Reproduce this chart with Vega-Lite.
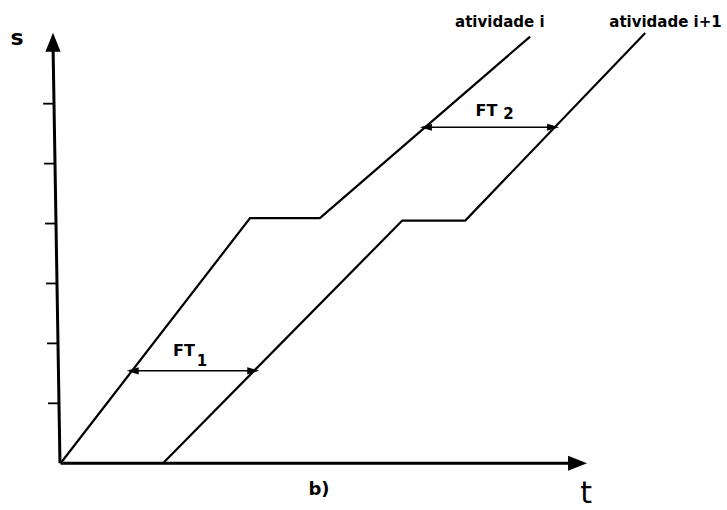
{
  "$schema": "https://vega.github.io/schema/vega-lite/v6.json",
  "width": 727,
  "height": 510,
  "autosize": {"type": "fit", "contains": "padding"},
  "padding": 0,
  "background": "white",
  "config": {"view": {"stroke": null}},
  "datasets": {
    "lines": [
      {"activity": "atividade i", "order": 1, "t": 0, "s": 0},
      {"activity": "atividade i", "order": 2, "t": 3.127, "s": 4.09},
      {"activity": "atividade i", "order": 3, "t": 4.28, "s": 4.09},
      {"activity": "atividade i", "order": 4, "t": 7.75, "s": 7.12},
      {"activity": "atividade i+1", "order": 1, "t": 1.69, "s": 0},
      {"activity": "atividade i+1", "order": 2, "t": 5.64, "s": 4.05},
      {"activity": "atividade i+1", "order": 3, "t": 6.68, "s": 4.05},
      {"activity": "atividade i+1", "order": 4, "t": 9.65, "s": 7.18}
    ],
    "axes": [
      {"axis": "s", "t": -0.01, "s": 0, "t2": -0.125, "s2": 7.0},
      {"axis": "t", "t": 0, "s": 0, "t2": 8.45, "s2": 0}
    ],
    "axisHeads": [
      {"axis": "s", "t": -0.125, "s": 7.026},
      {"axis": "t", "t": 8.533, "s": 0}
    ],
    "ticks": [
      {"s": 1, "t": -0.026, "t2": -0.208},
      {"s": 2, "t": -0.042, "t2": -0.224},
      {"s": 3, "t": -0.058, "t2": -0.24},
      {"s": 4, "t": -0.074, "t2": -0.256},
      {"s": 5, "t": -0.09, "t2": -0.272},
      {"s": 6, "t": -0.106, "t2": -0.288}
    ],
    "float": [
      {"name": "FT1", "t1": 1.19, "t2": 3.18, "s": 1.543},
      {"name": "FT2", "t1": 6.03, "t2": 8.13, "s": 5.607}
    ],
    "activityLabels": [
      {"text": "atividade i", "t": 7.25, "s": 7.28},
      {"text": "atividade i+1", "t": 9.985, "s": 7.28}
    ],
    "ftLabels": [
      {"text": "FT", "t": 2.037, "s": 1.792},
      {"text": "FT", "t": 7.03, "s": 5.79}
    ],
    "ftSubs": [
      {"text": "1", "t": 2.334, "s": 1.626},
      {"text": "2", "t": 7.394, "s": 5.74}
    ],
    "sTitle": [
      {"text": "s", "t": -0.72, "s": 6.98}
    ],
    "panelTitle": [
      {"text": "b)", "t": 4.265, "s": -0.53}
    ],
    "timeTitle": [
      {"text": "t", "t": 8.673, "s": -0.664}
    ]
  },
  "layer": [
    {
      "data": {"name": "axes"},
      "mark": {"type": "rule", "stroke": "black", "strokeWidth": 3},
      "encoding": {
        "x": {"field": "t", "type": "quantitative", "scale": {"domain": [-1, 11], "nice": false, "zero": false}, "axis": null},
        "y": {"field": "s", "type": "quantitative", "scale": {"domain": [-0.73, 7.73], "nice": false, "zero": false}, "axis": null},
        "x2": {"field": "t2"},
        "y2": {"field": "s2"}
      }
    },
    {
      "data": {"name": "axisHeads"},
      "mark": {"type": "point", "filled": true, "fill": "black", "opacity": 1, "size": 361},
      "encoding": {
        "x": {"field": "t", "type": "quantitative", "scale": {"domain": [-1, 11], "nice": false, "zero": false}, "axis": null},
        "y": {"field": "s", "type": "quantitative", "scale": {"domain": [-0.73, 7.73], "nice": false, "zero": false}, "axis": null},
        "shape": {"field": "axis", "type": "nominal", "scale": {"domain": ["s", "t"], "range": ["M0,-1L0.8,1L-0.8,1Z", "M1,0L-1,-0.8L-1,0.8Z"]}, "legend": null}
      }
    },
    {
      "data": {"name": "ticks"},
      "mark": {"type": "rule", "stroke": "black", "strokeWidth": 1.8},
      "encoding": {
        "x": {"field": "t", "type": "quantitative", "scale": {"domain": [-1, 11], "nice": false, "zero": false}, "axis": null},
        "y": {"field": "s", "type": "quantitative", "scale": {"domain": [-0.73, 7.73], "nice": false, "zero": false}, "axis": null},
        "x2": {"field": "t2"}
      }
    },
    {
      "data": {"name": "lines"},
      "mark": {"type": "line", "stroke": "black", "strokeWidth": 2.2},
      "encoding": {
        "x": {"field": "t", "type": "quantitative", "scale": {"domain": [-1, 11], "nice": false, "zero": false}, "axis": null},
        "y": {"field": "s", "type": "quantitative", "scale": {"domain": [-0.73, 7.73], "nice": false, "zero": false}, "axis": null},
        "detail": {"field": "activity", "type": "nominal"},
        "order": {"field": "order", "type": "quantitative"}
      }
    },
    {
      "data": {"name": "float"},
      "mark": {"type": "rule", "stroke": "black", "strokeWidth": 1.6},
      "encoding": {
        "x": {"field": "t1", "type": "quantitative", "scale": {"domain": [-1, 11], "nice": false, "zero": false}, "axis": null},
        "x2": {"field": "t2"},
        "y": {"field": "s", "type": "quantitative", "scale": {"domain": [-0.73, 7.73], "nice": false, "zero": false}, "axis": null}
      }
    },
    {
      "data": {"name": "float"},
      "mark": {"type": "point", "filled": true, "fill": "black", "opacity": 1, "size": 144, "shape": "M-1,0L1,-0.6L1,0.6Z", "dx": 6},
      "encoding": {
        "x": {"field": "t1", "type": "quantitative", "scale": {"domain": [-1, 11], "nice": false, "zero": false}, "axis": null},
        "y": {"field": "s", "type": "quantitative", "scale": {"domain": [-0.73, 7.73], "nice": false, "zero": false}, "axis": null}
      }
    },
    {
      "data": {"name": "float"},
      "mark": {"type": "point", "filled": true, "fill": "black", "opacity": 1, "size": 144, "shape": "M1,0L-1,-0.6L-1,0.6Z", "dx": -6},
      "encoding": {
        "x": {"field": "t2", "type": "quantitative", "scale": {"domain": [-1, 11], "nice": false, "zero": false}, "axis": null},
        "y": {"field": "s", "type": "quantitative", "scale": {"domain": [-0.73, 7.73], "nice": false, "zero": false}, "axis": null}
      }
    },
    {
      "data": {"name": "activityLabels"},
      "mark": {"type": "text", "font": "DejaVu Sans", "fontWeight": "bold", "fontSize": 15, "align": "center", "baseline": "alphabetic", "fill": "black"},
      "encoding": {
        "x": {"field": "t", "type": "quantitative", "scale": {"domain": [-1, 11], "nice": false, "zero": false}, "axis": null},
        "y": {"field": "s", "type": "quantitative", "scale": {"domain": [-0.73, 7.73], "nice": false, "zero": false}, "axis": null},
        "text": {"field": "text"}
      }
    },
    {
      "data": {"name": "ftLabels"},
      "mark": {"type": "text", "font": "DejaVu Sans", "fontWeight": "bold", "fontSize": 16, "align": "center", "baseline": "alphabetic", "fill": "black"},
      "encoding": {
        "x": {"field": "t", "type": "quantitative", "scale": {"domain": [-1, 11], "nice": false, "zero": false}, "axis": null},
        "y": {"field": "s", "type": "quantitative", "scale": {"domain": [-0.73, 7.73], "nice": false, "zero": false}, "axis": null},
        "text": {"field": "text"}
      }
    },
    {
      "data": {"name": "ftSubs"},
      "mark": {"type": "text", "font": "DejaVu Sans", "fontWeight": "bold", "fontSize": 15, "align": "center", "baseline": "alphabetic", "fill": "black"},
      "encoding": {
        "x": {"field": "t", "type": "quantitative", "scale": {"domain": [-1, 11], "nice": false, "zero": false}, "axis": null},
        "y": {"field": "s", "type": "quantitative", "scale": {"domain": [-0.73, 7.73], "nice": false, "zero": false}, "axis": null},
        "text": {"field": "text"}
      }
    },
    {
      "data": {"name": "sTitle"},
      "mark": {"type": "text", "font": "DejaVu Sans", "fontWeight": "bold", "fontSize": 22, "align": "center", "baseline": "alphabetic", "fill": "black"},
      "encoding": {
        "x": {"field": "t", "type": "quantitative", "scale": {"domain": [-1, 11], "nice": false, "zero": false}, "axis": null},
        "y": {"field": "s", "type": "quantitative", "scale": {"domain": [-0.73, 7.73], "nice": false, "zero": false}, "axis": null},
        "text": {"field": "text"}
      }
    },
    {
      "data": {"name": "panelTitle"},
      "mark": {"type": "text", "font": "DejaVu Sans", "fontWeight": "bold", "fontSize": 18, "align": "center", "baseline": "alphabetic", "fill": "black"},
      "encoding": {
        "x": {"field": "t", "type": "quantitative", "scale": {"domain": [-1, 11], "nice": false, "zero": false}, "axis": null},
        "y": {"field": "s", "type": "quantitative", "scale": {"domain": [-0.73, 7.73], "nice": false, "zero": false}, "axis": null},
        "text": {"field": "text"}
      }
    },
    {
      "data": {"name": "timeTitle"},
      "mark": {"type": "text", "font": "DejaVu Sans", "fontWeight": "normal", "fontSize": 30, "align": "center", "baseline": "alphabetic", "fill": "black"},
      "encoding": {
        "x": {"field": "t", "type": "quantitative", "scale": {"domain": [-1, 11], "nice": false, "zero": false}, "axis": null},
        "y": {"field": "s", "type": "quantitative", "scale": {"domain": [-0.73, 7.73], "nice": false, "zero": false}, "axis": null},
        "text": {"field": "text"}
      }
    }
  ]
}
